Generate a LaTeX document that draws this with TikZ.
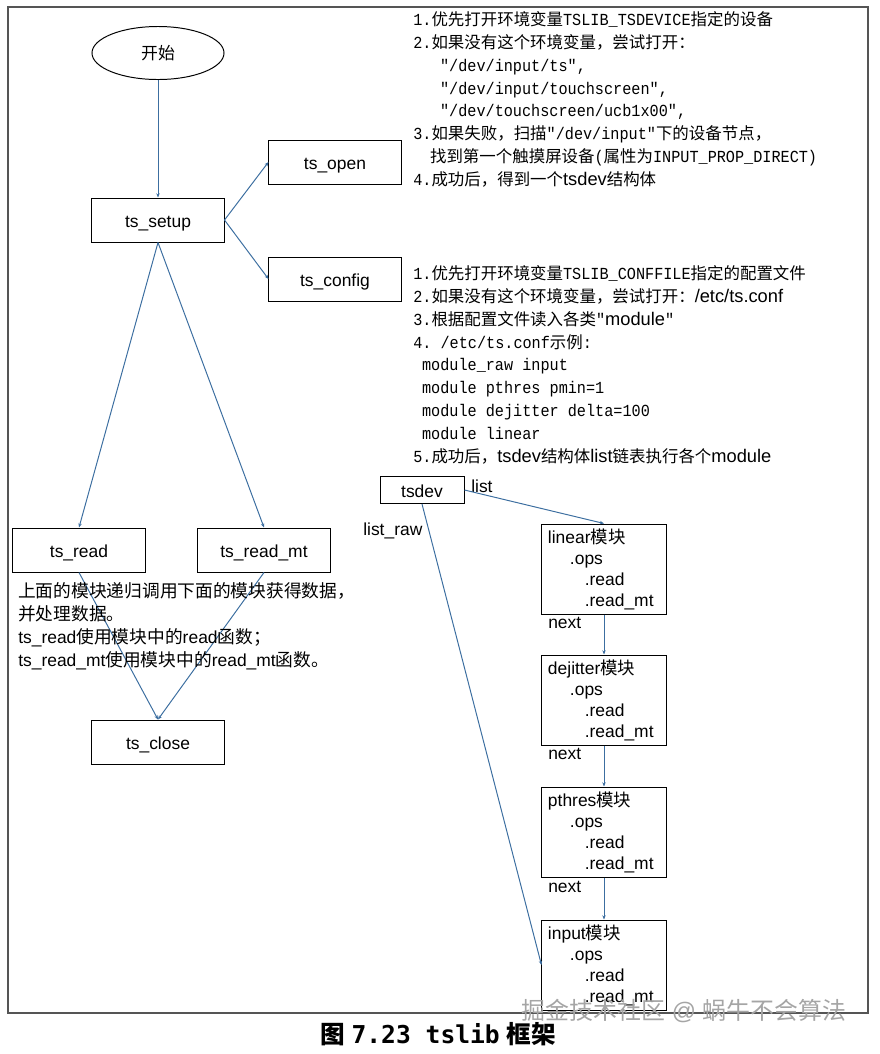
\documentclass[tikz,border=0pt]{standalone}
\usepackage{fontspec}
\setmainfont{Liberation Sans}
\setmonofont{Liberation Mono}
\newfontfamily\cjkfont{Noto Sans CJK SC}
\newfontfamily\simmono{Liberation Mono}[FakeStretch=0.9]
\newfontfamily\capmono{DejaVu Sans Mono}
\usetikzlibrary{shapes.geometric,arrows.meta}
\usepackage{xcolor}
\definecolor{linkBlue}{RGB}{60,110,160}
\definecolor{frameGray}{RGB}{85,85,85}
\definecolor{markGray}{RGB}{165,165,165}
\newcommand{\zh}[1]{{\cjkfont #1}}
\newcommand{\tm}[1]{{\fontsize{12}{16.3}\selectfont\simmono #1}}
\newcommand{\ar}[1]{{\fontsize{13}{16.3}\selectfont #1}}

\begin{document}
\begin{tikzpicture}[x=0.025cm, y=-0.025cm,
    box/.style={draw, line width=0.7pt, minimum width=3.3cm, minimum height=1.1cm, inner sep=0pt, text height=10.2pt, text depth=0pt, font=\fontsize{12.4}{15}\selectfont},
    modbox/.style={draw, line width=0.7pt, minimum width=3.1cm, minimum height=2.25cm, inner xsep=0.15cm, inner ysep=0pt, text width=2.8cm, align=left, font=\fontsize{12.4}{14.9}\selectfont},
    link/.style={draw=linkBlue, line width=0.7pt, -{Stealth[length=3pt,width=2.4pt]}},
    note/.style={anchor=north west, inner sep=0pt, align=left, font=\fontsize{11.7}{16.3}\selectfont},
    tag/.style={anchor=west, inner sep=0pt, font=\fontsize{12.4}{15}\selectfont}]
  \useasboundingbox (0,0) rectangle (880,1054);
  \draw[frameGray, line width=1pt] (8,7) rectangle (868,1013);

  % main flow
  \node[draw, ellipse, line width=0.7pt, minimum width=3.3cm, minimum height=1.325cm, inner sep=0pt, font=\fontsize{12}{14}\selectfont] (start) at (158,53) {\zh{开始}};
  \node[box] (setup) at (158,220) {ts\_setup};
  \node[box] (open) at (335,162) {ts\_open};
  \node[box] (config) at (335,279) {ts\_config};
  \node[box] (read) at (79,550) {ts\_read};
  \node[box] (readmt) at (264,550) {ts\_read\_mt};
  \node[box] (close) at (158,742) {ts\_close};

  \draw[link] (start) -- (setup);
  \draw[link] (setup.east) -- (open.west);
  \draw[link] (setup.east) -- (config.west);
  \draw[link] (setup.south) -- (read.north);
  \draw[link] (setup.south) -- (readmt.north);
  \draw[link] (read.south) -- (close.north);
  \draw[link] (readmt.south) -- (close.north);

  % notes
  \node[note] (opennote) at (413,11) {%
    \tm{1.}\zh{优先打开环境变量}\tm{TSLIB\_TSDEVICE}\zh{指定的设备}\\
    \tm{2.}\zh{如果没有这个环境变量，尝试打开：}\\
    \hspace*{0.67cm}\tm{"/dev/input/ts",}\\
    \hspace*{0.67cm}\tm{"/dev/input/touchscreen",}\\
    \hspace*{0.67cm}\tm{"/dev/touchscreen/ucb1x00",}\\
    \tm{3.}\zh{如果失败，扫描}\tm{"/dev/input"}\zh{下的设备节点，}\\
    \hspace*{0.42cm}\zh{找到第一个触摸屏设备}\tm{(}\zh{属性为}\tm{INPUT\_PROP\_DIRECT)}\\
    \tm{4.}\zh{成功后，得到一个}\ar{tsdev}\zh{结构体}};
  \node[note] (confignote) at (413,265) {%
    \tm{1.}\zh{优先打开环境变量}\tm{TSLIB\_CONFFILE}\zh{指定的配置文件}\\
    \tm{2.}\zh{如果没有这个环境变量，尝试打开：}\ar{/etc/ts.conf}\\
    \tm{3.}\zh{根据配置文件读入各类}\tm{"}\ar{module}\tm{"}\\
    \tm{4.\ /etc/ts.conf}\zh{示例}\tm{:}\\
    \hspace*{0.22cm}\tm{module\_raw input}\\
    \hspace*{0.22cm}\tm{module pthres pmin=1}\\
    \hspace*{0.22cm}\tm{module dejitter delta=100}\\
    \hspace*{0.22cm}\tm{module linear}\\
    \tm{5.}\zh{成功后，}\ar{tsdev}\zh{结构体}\ar{list}\zh{链表执行各个}\ar{module}};
  \node[note, font=\fontsize{12.4}{16.3}\selectfont] (readnote) at (18,582) {%
    {\fontsize{12.6}{16.3}\selectfont\zh{上面的模块递归调用下面的模块获得数据，}}\\
    {\fontsize{12.6}{16.3}\selectfont\zh{并处理数据。}}\\
    ts\_read{\fontsize{12.6}{16.3}\selectfont\zh{使用模块中的}}read{\fontsize{12.6}{16.3}\selectfont\zh{函数；}}\\
    ts\_read\_mt{\fontsize{12.6}{16.3}\selectfont\zh{使用模块中的}}read\_mt{\fontsize{12.6}{16.3}\selectfont\zh{函数。}}};

  % tsdev and module list
  \node[box, minimum width=2.1cm, minimum height=0.675cm] (tsdev) at (422,490) {tsdev};
  \node[modbox] (linear) at (604,569) {linear\zh{模块}\\\hspace*{0.55cm}.ops\\\hspace*{0.92cm}.read\\\hspace*{0.92cm}.read\_mt};
  \node[modbox] (dejitter) at (604,700) {dejitter\zh{模块}\\\hspace*{0.55cm}.ops\\\hspace*{0.92cm}.read\\\hspace*{0.92cm}.read\_mt};
  \node[modbox] (pthres) at (604,832) {pthres\zh{模块}\\\hspace*{0.55cm}.ops\\\hspace*{0.92cm}.read\\\hspace*{0.92cm}.read\_mt};
  \node[modbox] (input) at (604,965) {input\zh{模块}\\\hspace*{0.55cm}.ops\\\hspace*{0.92cm}.read\\\hspace*{0.92cm}.read\_mt};
  \node[tag] (listlbl) at (471,486) {list};
  \node[tag] (rawlbl) at (363,531) {list\_raw};
  \node[tag] (next1) at (548,623) {next};
  \node[tag] (next2) at (548,754) {next};
  \node[tag] (next3) at (548,887) {next};

  \draw[link] (tsdev.east) -- (linear.north);
  \draw[link] (tsdev.south) -- (input.west);
  \draw[link] (linear) -- (dejitter);
  \draw[link] (dejitter) -- (pthres);
  \draw[link] (pthres) -- (input);

  % caption and watermark
  \node[font=\fontsize{17.5}{20}\selectfont\bfseries] (caption) at (438,1034) {\zh{图} {\capmono 7.23 tslib} \zh{框架}};
  \node[text=markGray, font=\fontsize{17}{20}\selectfont] (mark) at (684,1011) {\zh{掘金技术社区} @ \zh{蜗牛不会算法}};
\end{tikzpicture}
\end{document}
